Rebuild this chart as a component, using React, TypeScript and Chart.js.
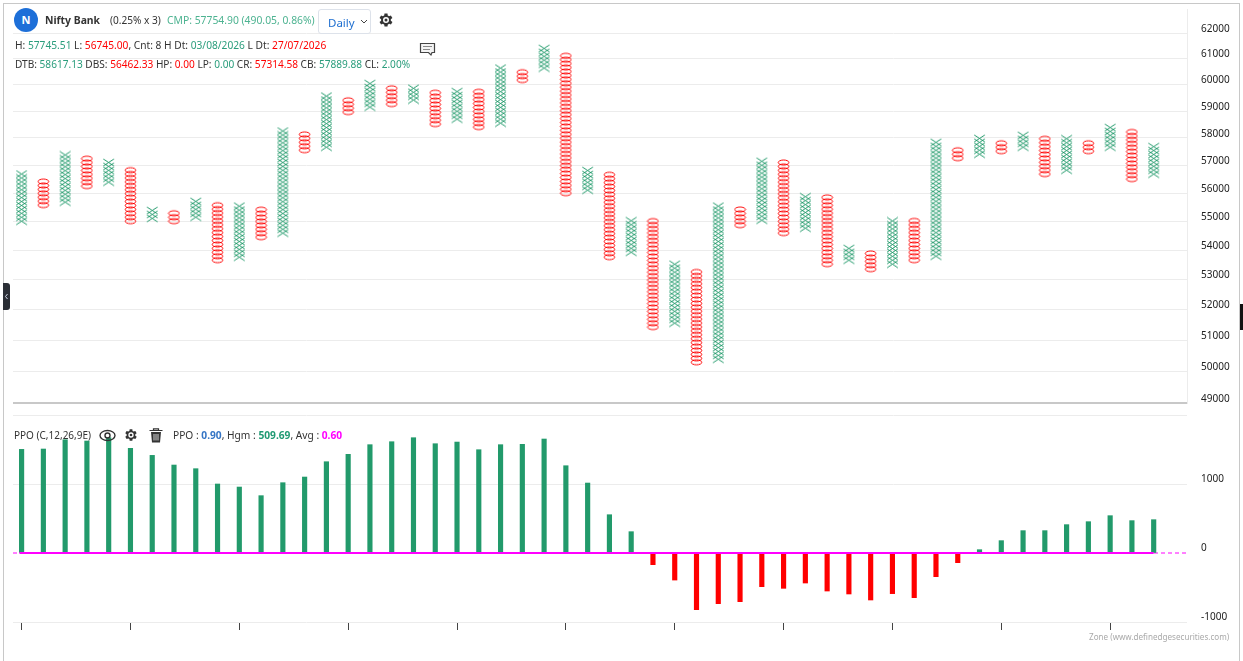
import React, { useEffect, useRef } from "react";
import { Chart, registerables } from "chart.js";

Chart.register(...registerables);

const W = 1243;
const H = 661;
const FONT = '"Noto Sans", sans-serif';
const GREEN = "#229a6b";
const RED = "#ff0000";
const MAGENTA = "#ff00ff";

// Point & figure: 0.25% box. One entry per column.
const columnKinds = "XOXOXOXOXOXOXOXOXOXOXOXOXOXOXOXOXOXOXOXOXOXOXOXOXOXOX";
const columnHighs = [
  56642, 56463, 57367, 57184, 57037, 56893, 55396, 55220, 55643, 55538, 55503, 55396, 58213, 58064,
  59526, 59375, 59981, 59829, 59792, 59678, 59792, 59678, 60558, 60403, 61334, 61177, 56749, 56642,
  55078, 54972, 53490, 53320, 55503, 55396, 57184, 57037, 55926, 55785, 54000, 53864, 55078, 54972,
  57769, 57586, 57916, 57769, 58064, 57916, 57916, 57769, 58325, 58213, 57623,
];
const columnLows = [
  55008, 55573, 55679, 56248, 56391, 55008, 55107, 55008, 55149, 53660, 53762, 54452, 54591, 57550,
  57660, 58959, 59148, 59261, 59413, 58511, 58698, 58399, 58549, 60173, 60635, 55996, 56104, 53762,
  53932, 51423, 51554, 50286, 50383, 54868, 55042, 54591, 54764, 53524, 53660, 53354, 53524, 53660,
  53796, 57257, 57404, 57513, 57660, 56679, 56821, 57513, 57660, 56500, 56679,
];
const BOX_PCT = 0.0025;

// PPO histogram, one per column.
const ppoHistogram = [
  1502, 1507, 1642, 1623, 1671, 1517, 1415, 1275, 1222, 1000, 956, 831, 1019, 1101, 1323, 1430, 1570,
  1613, 1671, 1584, 1608, 1497, 1570, 1575, 1652, 1265, 1014, 555, 309, -169, -392, -821, -734, -705,
  -488, -512, -435, -551, -594, -681, -589, -647, -343, -140, 48, 179, 324, 324, 411, 454, 541, 469, 483,
];
const ppoAverage = 0.6;

const priceTicks = [62000, 61000, 60000, 59000, 58000, 57000, 56000, 55000, 54000, 53000, 52000, 51000, 50000, 49000];
const ppoTicks = [2000, 1000, 0, -1000];
const columnTicks = [0, 5, 10, 15, 20, 25, 30, 35, 40, 45, 50];

function glyph(kind: string): HTMLCanvasElement {
  const c = document.createElement("canvas");
  c.width = 13;
  c.height = 9;
  const g = c.getContext("2d")!;
  g.lineWidth = 1;
  if (kind === "X") {
    g.strokeStyle = GREEN;
    g.beginPath();
    g.moveTo(1.2, 1);
    g.lineTo(11.8, 8);
    g.moveTo(11.8, 1);
    g.lineTo(1.2, 8);
    g.stroke();
  } else {
    g.strokeStyle = RED;
    g.beginPath();
    g.ellipse(6.5, 4.5, 5.3, 2.5, 0, 0, Math.PI * 2);
    g.stroke();
  }
  return c;
}

function boxesOf(kind: string) {
  const out: { x: number; y: number }[] = [];
  columnHighs.forEach((high, i) => {
    if (columnKinds[i] !== kind) return;
    const low = columnLows[i];
    const n = Math.round(Math.log(high / low) / Math.log(1 + BOX_PCT));
    for (let k = 0; k <= n; k++) out.push({ x: i, y: low * Math.pow(1 + BOX_PCT, k) });
  });
  return out;
}

const Txt = ({ x, y, size = 10, color = "#333", bold = false, children }: any) => (
  <span
    style={{
      position: "absolute",
      left: x,
      top: y,
      transform: "translateY(-50%)",
      fontFamily: FONT,
      fontSize: size,
      fontWeight: bold ? 700 : 400,
      color,
      whiteSpace: "pre",
      lineHeight: 1,
    }}
  >
    {children}
  </span>
);
const G = ({ c, children }: any) => <span style={{ color: c }}>{children}</span>;
const TG = "#2a9d7c";

const Gear = ({ x, y, s }: any) => (
  <svg style={{ position: "absolute", left: x, top: y }} width={s} height={s} viewBox="0 0 24 24">
    <path
      fill="#333"
      d="M19.4 13a7.6 7.6 0 0 0 0-2l2.1-1.6-2-3.5-2.5 1a7.6 7.6 0 0 0-1.7-1L15 3.2h-4l-.4 2.7a7.6 7.6 0 0 0-1.7 1l-2.5-1-2 3.5L6.5 11a7.6 7.6 0 0 0 0 2l-2.1 1.6 2 3.5 2.5-1a7.6 7.6 0 0 0 1.7 1l.4 2.7h4l.4-2.7a7.6 7.6 0 0 0 1.7-1l2.5 1 2-3.5zM13 16a4 4 0 1 1 0-8 4 4 0 0 1 0 8z"
      transform="translate(-1 0)"
    />
    <circle cx="12" cy="12" r="2" fill="#333" />
  </svg>
);

const clearPadding = (s: any) => {
  s.paddingTop = 0;
  s.paddingBottom = 0;
  s.paddingLeft = 0;
  s.paddingRight = 0;
};

export default function App() {
  const ref = useRef<HTMLCanvasElement>(null);

  useEffect(() => {
    const chart = new Chart(ref.current!, {
      type: "scatter",
      data: {
        datasets: [
          {
            type: "line",
            label: "zero",
            yAxisID: "y2",
            data: [
              { x: -0.395, y: 0 },
              { x: 53.53, y: 0 },
            ],
            borderColor: MAGENTA,
            borderWidth: 1,
            borderDash: [4, 3],
            pointRadius: 0,
            order: 3,
          },
          {
            type: "bar",
            label: "Hgm",
            yAxisID: "y2",
            data: ppoHistogram.map((v, i) => ({ x: i, y: v })),
            backgroundColor: ppoHistogram.map((v) => (v >= 0 ? GREEN : RED)),
            barThickness: 4.5,
            order: 2,
          },
          {
            type: "line",
            label: "Avg",
            yAxisID: "y2",
            data: [
              { x: -0.1, y: ppoAverage },
              { x: 52, y: ppoAverage },
            ],
            borderColor: MAGENTA,
            borderWidth: 2,
            pointRadius: 0,
            order: 1,
          },
          {
            label: "X",
            yAxisID: "y",
            data: boxesOf("X"),
            pointStyle: glyph("X") as any,
            pointRadius: 5,
          },
          {
            label: "O",
            yAxisID: "y",
            data: boxesOf("O"),
            pointStyle: glyph("O") as any,
            pointRadius: 5,
          },
        ] as any,
      },
      options: {
        responsive: false,
        animation: false,
        devicePixelRatio: 1,
        events: [],
        layout: { autoPadding: false, padding: { left: 13, top: 9, right: 0, bottom: 0 } },
        plugins: { legend: { display: false }, tooltip: { enabled: false }, title: { display: false } },
        scales: {
          x: {
            type: "linear",
            position: "bottom",
            min: -0.395,
            max: 53.53,
            offset: false,
            bounds: "data",
            afterBuildTicks: (s: any) => {
              s.ticks = columnTicks.map((value) => ({ value }));
            },
            afterFit: (s: any) => {
              s.height = H - 622;
              clearPadding(s);
            },
            border: { display: false },
            grid: { offset: false, drawOnChartArea: false, drawTicks: true, tickLength: 8, tickColor: "#444" },
            ticks: { display: false },
          },
          y: {
            type: "logarithmic",
            position: "right",
            stack: "panels",
            stackWeight: 394,
            min: 49000,
            max: 62955,
            bounds: "data",
            afterBuildTicks: (s: any) => {
              s.ticks = priceTicks.map((value) => ({ value }));
            },
            afterFit: (s: any) => {
              s.width = W - 1187;
              clearPadding(s);
            },
            border: { display: true, color: "#ececec" },
            grid: {
              drawTicks: false,
              color: (c: any) => (c.tick && c.tick.value === 49000 ? "#c8c8c8" : "#ececec"),
              lineWidth: (c: any) => (c.tick && c.tick.value === 49000 ? 2 : 1),
            },
            ticks: {
              autoSkip: false,
              padding: 14,
              labelOffset: -4,
              color: "#222",
              font: { family: FONT, size: 10 },
              callback: (v: any) => String(v),
            },
          },
          y2: {
            type: "linear",
            position: "right",
            stack: "panels",
            stackWeight: 219,
            min: -1000,
            max: 2174,
            bounds: "data",
            afterBuildTicks: (s: any) => {
              s.ticks = ppoTicks.map((value) => ({ value }));
            },
            afterFit: (s: any) => {
              s.width = W - 1187;
              clearPadding(s);
            },
            border: { display: false },
            grid: {
              drawTicks: false,
              color: (c: any) => (c.tick && c.tick.value === 0 ? "rgba(0,0,0,0)" : "#ececec"),
            },
            ticks: {
              autoSkip: false,
              padding: 14,
              labelOffset: -5,
              color: "#222",
              font: { family: FONT, size: 10 },
              callback: (v: any) => (v === 2000 ? "" : String(v)),
            },
          },
        },
      } as any,
    });
    return () => chart.destroy();
  }, []);

  return (
    <div style={{ position: "absolute", left: 0, top: 0, width: W, height: H, overflow: "hidden", background: "#fff" }}>
      <canvas ref={ref} width={W} height={H} style={{ position: "absolute", left: 0, top: 0, display: "block" }} />

      {/* frame */}
      <div
        style={{
          position: "absolute",
          left: 3,
          top: 3,
          width: 1235,
          height: 670,
          borderLeft: "1px solid #c8c8c8",
          borderTop: "1px solid #c8c8c8",
          borderRight: "1px solid #c8c8c8",
        }}
      />
      <div style={{ position: "absolute", left: 3, top: 283, width: 7, height: 27, background: "#2b2f36", borderRadius: "0 3px 3px 0" }}>
        <svg width="7" height="27" style={{ position: "absolute", left: 0, top: 0 }}>
          <path d="M4.5 11 L2.5 13.5 L4.5 16" stroke="#cfd6e6" fill="none" strokeWidth="1" />
        </svg>
      </div>
      <div style={{ position: "absolute", left: 1240, top: 304, width: 3, height: 26, background: "#111" }} />

      {/* header */}
      <div style={{ position: "absolute", left: 14, top: 8, width: 24, height: 24, borderRadius: 12, background: "#1d6fd8", color: "#fff", fontFamily: FONT, fontWeight: 700, fontSize: 11, textAlign: "center", lineHeight: "24px" }}>
        N
      </div>
      <Txt x={45} y={20} size={10.4} bold color="#333">Nifty Bank</Txt>
      <Txt x={110} y={19.5} size={10.1}>(0.25% x 3)</Txt>
      <Txt x={167} y={19.5} size={10.35} color="#4db391">CMP: 57754.90 (490.05, 0.86%)</Txt>
      <div style={{ position: "absolute", left: 318, top: 9, width: 53, height: 25, boxSizing: "border-box", border: "1px solid #dde2ea", borderRadius: 3 }}>
        <span style={{ position: "absolute", left: 9, top: 6, fontFamily: FONT, fontSize: 11.5, lineHeight: "14px", color: "#1f6fd0" }}>Daily</span>
        <svg width="8" height="6" style={{ position: "absolute", left: 41, top: 9 }}>
          <path d="M1 1 L4 4 L7 1" stroke="#444" fill="none" strokeWidth="1" />
        </svg>
      </div>
      <Gear x={377} y={11} s={18} />

      <Txt x={15} y={45} size={10.2}>
        H: <G c={TG}>57745.51</G> L: <G c={RED}>56745.00</G>, Cnt: 8 H Dt: <G c={TG}>03/08/2026</G> L Dt: <G c={RED}>27/07/2026</G>
      </Txt>
      <Txt x={15} y={64} size={10.1}>
        DTB: <G c={TG}>58617.13</G> DBS: <G c={RED}>56462.33</G> HP: <G c={RED}>0.00</G> LP: <G c={TG}>0.00</G> CR: <G c={RED}>57314.58</G> CB: <G c={TG}>57889.88</G> CL: <G c={TG}>2.00%</G>
      </Txt>
      <svg width="17" height="15" style={{ position: "absolute", left: 419, top: 42 }}>
        <path d="M1.5 1.5 H15.5 V10.5 H13 L12 13 L9.5 10.5 H1.5 Z" stroke="#444" fill="#f4f4f4" strokeWidth="1.2" />
        <path d="M4 4.5 H13 M4 7.5 H11" stroke="#888" strokeWidth="1" />
      </svg>

      {/* PPO row */}
      <Txt x={14} y={435}>PPO (C,12,26,9E)</Txt>
      <svg width="17" height="13" viewBox="0 0 17 13" style={{ position: "absolute", left: 99, top: 429 }}>
        <ellipse cx="8.5" cy="6.5" rx="7.5" ry="5" stroke="#333" strokeWidth="1.4" fill="none" />
        <circle cx="8.5" cy="6.5" r="2.5" stroke="#333" strokeWidth="1.4" fill="none" />
      </svg>
      <Gear x={123} y={427} s={16} />
      <svg width="14" height="15" viewBox="0 0 14 15" style={{ position: "absolute", left: 149, top: 428 }}>
        <path d="M0.5 2.5 H13.5 M4.5 2.5 V0.8 H9.5 V2.5" stroke="#333" strokeWidth="1.2" fill="none" />
        <path d="M2 4 H12 L11 14.5 H3 Z" fill="#333" />
        <path d="M5 6 V12.5 M7 6 V12.5 M9 6 V12.5" stroke="#fff" strokeWidth="0.8" />
      </svg>
      <Txt x={173} y={435} size={10.2}>
        PPO : <b style={{ color: "#3575c5" }}>0.90</b>, Hgm : <b style={{ color: "#1f9a73" }}>509.69</b>, Avg : <b style={{ color: MAGENTA }}>0.60</b>
      </Txt>

      <Txt x={1089} y={637} size={8.1} color="#aaa">Zone (www.definedgesecurities.com)</Txt>
    </div>
  );
}
